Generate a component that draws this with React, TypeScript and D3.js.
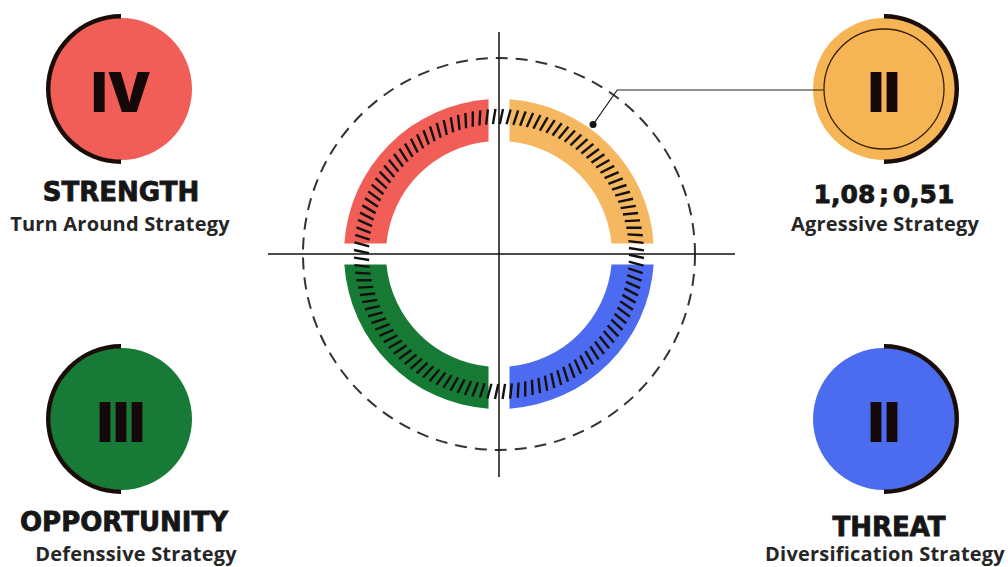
import React, { useRef, useEffect } from 'react';
import * as d3 from 'd3';

// quadrant cards, in order: top-left, top-right, bottom-left, bottom-right
const numerals = ['IV', 'II', 'III', 'II'];
const titles = ['STRENGTH', '1,08 ; 0,51', 'OPPORTUNITY', 'THREAT'];
const subtitles = ['Turn Around Strategy', 'Agressive Strategy', 'Defenssive Strategy', 'Diversification Strategy'];
const cardColors = ['#F15E58', '#F6B555', '#177A37', '#4C6CF0'];

// ring segments clockwise from 12 o'clock: top-right, bottom-right, bottom-left, top-left
const ringShares = [1, 1, 1, 1];
const ringColors = ['#F5B860', '#4D6BF0', '#167A35', '#F15E58'];

// highlighted point on the ring (angle in degrees, clockwise from top)
const markerAngle = 36;

const W = 1008;
const H = 567;

const App = () => {
    const svgRef = useRef<SVGSVGElement | null>(null);

    useEffect(() => {
        const svg = d3.select(svgRef.current);
        svg.selectAll('*').remove();

        const cx = 499;
        const cy = 254;
        const outerR = 155;
        const innerR = 113;

        const g = svg.append('g').attr('transform', `translate(${cx},${cy})`);

        // dashed outer circle
        g.append('circle')
            .attr('r', 196)
            .attr('fill', 'none')
            .attr('stroke', '#333')
            .attr('stroke-width', 2)
            .attr('stroke-dasharray', '12 8');

        // coloured ring
        const pie = d3.pie<number>().sort(null).value((d) => d);
        const arc = d3
            .arc<d3.PieArcDatum<number>>()
            .innerRadius(innerR)
            .outerRadius(outerR)
            .padAngle(0.21)
            .padRadius(100);

        g.append('g')
            .selectAll('path')
            .data(pie(ringShares))
            .join('path')
            .attr('d', arc)
            .attr('fill', (d, i) => ringColors[i]);

        // hatch ticks
        const tickAngles = d3.range(0, 360, 3);
        g.append('g')
            .selectAll('line')
            .data(tickAngles)
            .join('line')
            .attr('transform', (d) => `rotate(${d + 4})`)
            .attr('x1', -1.5)
            .attr('x2', 1.5)
            .attr('y1', -130)
            .attr('y2', -145)
            .attr('stroke', '#141010')
            .attr('stroke-width', 2.4);

        // axes
        svg.append('line')
            .attr('x1', cx).attr('x2', cx)
            .attr('y1', 32).attr('y2', 477)
            .attr('stroke', '#111').attr('stroke-width', 1.5);
        svg.append('line')
            .attr('x1', 268).attr('x2', 735)
            .attr('y1', cy).attr('y2', cy)
            .attr('stroke', '#111').attr('stroke-width', 1.5);

        // side cards
        const cardX = [121, 884];
        const cardY = [89, 419];
        const cardR = 71;
        const titleDx = [0, 0, 3, 5];
        const subDx = [-1, 1, 15, 1];
        const titleDy = [112, 114, 112, 117];
        const subDy = [142, 142, 142, 142];

        const cards = svg
            .append('g')
            .selectAll('g')
            .data(numerals)
            .join('g')
            .attr('transform', (d, i) => `translate(${cardX[i % 2]},${cardY[Math.floor(i / 2)]})`);

        cards.append('circle').attr('r', cardR).attr('fill', (d, i) => cardColors[i]);

        const halfArc = d3.arc<{ startAngle: number; endAngle: number }>().innerRadius(cardR - 0.5).outerRadius(cardR + 4);
        cards.append('path')
            .attr('d', (d, i) =>
                i % 2 === 0
                    ? halfArc({ startAngle: Math.PI, endAngle: 2 * Math.PI })
                    : halfArc({ startAngle: 0, endAngle: Math.PI }))
            .attr('fill', '#1a0d08');

        cards.filter((d, i) => i === 1)
            .append('circle')
            .attr('r', 60)
            .attr('fill', 'none')
            .attr('stroke', '#3a2206')
            .attr('stroke-width', 1.3);

        cards.append('text')
            .attr('text-anchor', 'middle')
            .attr('y', 23)
            .attr('font-family', 'Inter, "Open Sans", sans-serif')
            .attr('font-weight', 900)
            .attr('font-size', 55)
            .attr('fill', '#140808')
            .text((d) => d);

        cards.append('text')
            .attr('text-anchor', 'middle')
            .attr('x', (d, i) => titleDx[i])
            .attr('y', (d, i) => titleDy[i])
            .attr('font-family', '"DejaVu Sans", sans-serif')
            .attr('font-weight', 700)
            .attr('font-size', (d, i) => (i === 1 ? 25 : 26))
            .attr('word-spacing', (d, i) => (i === 1 ? -5 : 0))
            .attr('fill', '#161616')
            .attr('stroke', '#161616')
            .attr('stroke-width', 0.8)
            .text((d, i) => titles[i]);

        cards.append('text')
            .attr('text-anchor', 'middle')
            .attr('x', (d, i) => subDx[i])
            .attr('y', (d, i) => subDy[i])
            .attr('font-family', '"Open Sans", sans-serif')
            .attr('font-weight', 700)
            .attr('font-size', 20)
            .attr('letter-spacing', 0.2)
            .attr('fill', '#262626')
            .text((d, i) => subtitles[i]);

        // pointer from the ring to the top-right card
        const a = (markerAngle * Math.PI) / 180;
        const mr = outerR + 5;
        const mx = cx + mr * Math.sin(a);
        const my = cy - mr * Math.cos(a);
        const lineY = 90;
        const kinkX = mx + (my - lineY) * 0.7;
        svg.append('path')
            .attr('d', `M${mx},${my}L${kinkX},${lineY}L${cardX[1] - 60},${lineY}`)
            .attr('fill', 'none')
            .attr('stroke', '#222')
            .attr('stroke-width', 1.2);
        svg.append('circle').attr('cx', mx).attr('cy', my).attr('r', 3.5).attr('fill', '#111');
    }, []);

    return (
        <svg
            ref={svgRef}
            width={W}
            height={H}
            style={{ position: 'absolute', left: 0, top: 0, background: '#fff' }}
        ></svg>
    );
};

export default App;
